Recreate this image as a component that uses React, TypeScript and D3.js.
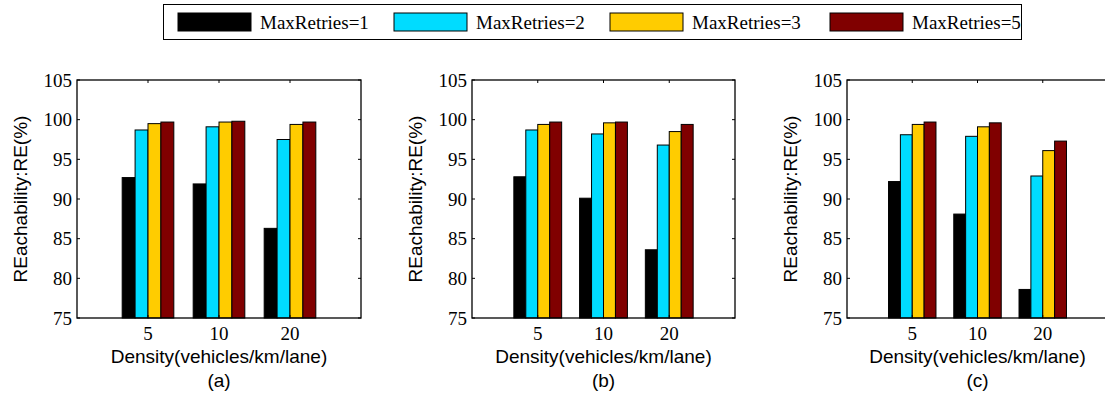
import React, { useEffect, useRef } from "react";
import * as d3 from "d3";

const densities = ["5", "10", "20"];
const seriesNames = ["MaxRetries=1", "MaxRetries=2", "MaxRetries=3", "MaxRetries=5"];
const seriesColors = ["#000000", "#00dcff", "#ffcc00", "#800000"];
const yTicks = [75, 80, 85, 90, 95, 100, 105];

// values per panel: [series][density]
const panelA = [
  [92.7, 91.9, 86.3],
  [98.7, 99.1, 97.5],
  [99.5, 99.7, 99.4],
  [99.7, 99.8, 99.7],
];
const panelB = [
  [92.8, 90.1, 83.6],
  [98.7, 98.2, 96.8],
  [99.4, 99.6, 98.5],
  [99.7, 99.7, 99.4],
];
const panelC = [
  [92.2, 88.1, 78.6],
  [98.1, 97.9, 92.9],
  [99.4, 99.1, 96.1],
  [99.7, 99.6, 97.3],
];
const panelLabels = ["(a)", "(b)", "(c)"];

const W = 1105;
const H = 396;

const App = () => {
  const ref = useRef<SVGSVGElement>(null);

  useEffect(() => {
    const svg = d3.select(ref.current);
    svg.selectAll("*").remove();

    const serif = '"Liberation Serif", "DejaVu Serif", "Times New Roman", serif';
    const sans = '"Liberation Sans", Arial, sans-serif';

    const panels = [
      { data: panelA, left: 77, right: 361 },
      { data: panelB, left: 472, right: 735 },
      { data: panelC, left: 847, right: 1108 },
    ];
    const top = 80;
    const bottom = 318;

    const y = d3.scaleLinear().domain([75, 105]).range([bottom, top]);
    const groupWidth = 4 / 5.5;
    const barW = groupWidth / 4;

    panels.forEach((p, pi) => {
      const x = d3.scaleLinear().domain([0, 4]).range([p.left, p.right]);
      const g = svg.append("g");

      // bars
      p.data.forEach((vals, si) => {
        g.selectAll(null)
          .data(vals)
          .join("rect")
          .attr("x", (d, i) => x(i + 1 - groupWidth / 2 + si * barW))
          .attr("width", x(barW) - x(0))
          .attr("y", (d) => y(d))
          .attr("height", (d) => y(75) - y(d))
          .attr("fill", seriesColors[si])
          .attr("stroke", "#000")
          .attr("stroke-width", 1);
      });

      // box
      g.append("rect")
        .attr("x", p.left)
        .attr("y", top)
        .attr("width", p.right - p.left)
        .attr("height", bottom - top)
        .attr("fill", "none")
        .attr("stroke", "#000")
        .attr("stroke-width", 1.3);

      // y ticks
      yTicks.forEach((t) => {
        g.append("line")
          .attr("x1", p.left).attr("x2", p.left + 3)
          .attr("y1", y(t)).attr("y2", y(t))
          .attr("stroke", "#000");
        g.append("line")
          .attr("x1", p.right).attr("x2", p.right - 3)
          .attr("y1", y(t)).attr("y2", y(t))
          .attr("stroke", "#000");
        g.append("text")
          .attr("x", p.left - 5)
          .attr("y", y(t) + 6.5)
          .attr("text-anchor", "end")
          .style("font-family", serif)
          .style("font-size", "19px")
          .text(t);
      });

      // x ticks
      densities.forEach((d, i) => {
        g.append("line")
          .attr("x1", x(i + 1)).attr("x2", x(i + 1))
          .attr("y1", bottom).attr("y2", bottom - 3)
          .attr("stroke", "#000");
        g.append("line")
          .attr("x1", x(i + 1)).attr("x2", x(i + 1))
          .attr("y1", top).attr("y2", top + 3)
          .attr("stroke", "#000");
        g.append("text")
          .attr("x", x(i + 1))
          .attr("y", 340)
          .attr("text-anchor", "middle")
          .style("font-family", serif)
          .style("font-size", "19px")
          .text(d);
      });

      const cx = (p.left + p.right) / 2;
      g.append("text")
        .attr("x", cx)
        .attr("y", 363)
        .attr("text-anchor", "middle")
        .style("font-family", sans)
        .style("font-size", "19px")
        .text("Density(vehicles/km/lane)");
      g.append("text")
        .attr("x", cx)
        .attr("y", 387)
        .attr("text-anchor", "middle")
        .style("font-family", sans)
        .style("font-size", "19px")
        .text(panelLabels[pi]);

      g.append("text")
        .attr("transform", `translate(${p.left - 50},${(top + bottom) / 2}) rotate(-90)`)
        .attr("text-anchor", "middle")
        .style("font-family", sans)
        .style("font-size", "19px")
        .text("REachability:RE(%)");
    });

    // legend
    const lg = svg.append("g");
    lg.append("rect")
      .attr("x", 163.5).attr("y", 4.5)
      .attr("width", 858).attr("height", 35)
      .attr("fill", "#fff").attr("stroke", "#000").attr("stroke-width", 1);
    const legendX = d3.scaleLinear().domain([0, 1]).range([178, 394]);
    seriesNames.forEach((name, i) => {
      const sx = legendX(i) + (i === 3 ? 4 : 0);
      lg.append("rect")
        .attr("x", sx).attr("y", 13)
        .attr("width", 73).attr("height", 18)
        .attr("fill", seriesColors[i])
        .attr("stroke", "#000");
      lg.append("text")
        .attr("x", sx + 82).attr("y", 29)
        .style("font-family", serif)
        .style("font-size", "19px")
        .text(name);
    });
  }, []);

  return (
    <svg
      ref={ref}
      width={W}
      height={H}
      style={{ position: "absolute", left: 0, top: 0, background: "#fff" }}
    />
  );
};

export default App;
